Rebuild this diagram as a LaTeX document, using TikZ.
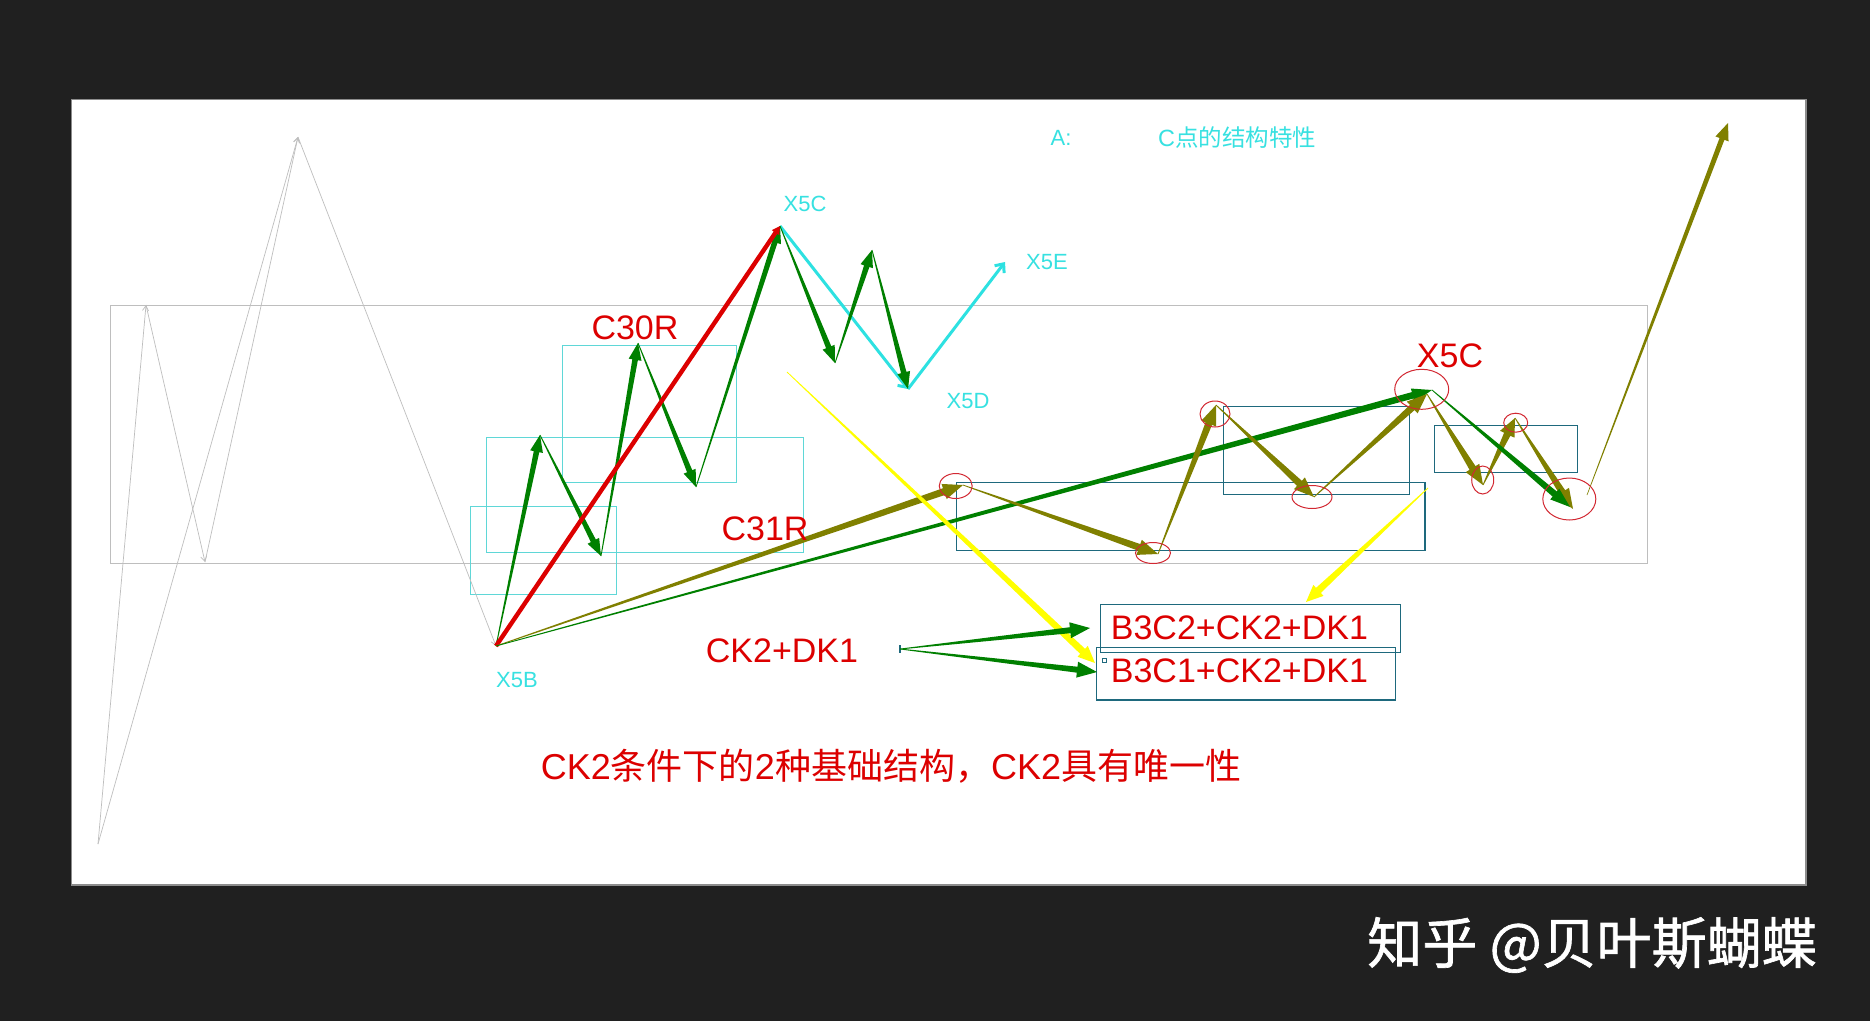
\documentclass[tikz,border=0pt]{standalone}
\usepackage{fontspec}
\setmainfont{Liberation Sans}
\newfontfamily\cjk{Noto Sans CJK SC}
\newfontfamily\cjkwm[FakeBold=1.2]{Noto Sans CJK SC}
\usetikzlibrary{calc,arrows.meta,shapes.geometric}
\definecolor{bgdark}{RGB}{32,32,32}
\definecolor{gline}{RGB}{190,190,190}
\definecolor{cybox}{RGB}{95,215,215}
\definecolor{cytext}{RGB}{55,225,225}
\definecolor{cyline}{RGB}{45,225,225}
\definecolor{grn}{RGB}{0,128,0}
\definecolor{olv}{RGB}{128,128,0}
\definecolor{ylw}{RGB}{255,255,0}
\definecolor{tealbox}{RGB}{30,105,125}
\definecolor{rd}{RGB}{220,0,0}
\definecolor{circ}{RGB}{210,40,50}
% tapered arrow: #1 colour, #2 from, #3 to, #4 tail half width, #5 shaft half width at head, #6 head half width, #7 head length
\newcommand\tarrow[7]{%
  \coordinate (tH) at ($(#3)!#7!(#2)$);
  \fill[#1] ($(#2)!#4!90:(#3)$) -- ($(tH)!#5!90:(#3)$) -- ($(tH)!#6!90:(#3)$) -- (#3)
    -- ($(tH)!#6!-90:(#3)$) -- ($(tH)!#5!-90:(#3)$) -- ($(#2)!#4!-90:(#3)$) -- cycle;}
\tikzset{
  glinestyle/.style={draw=gline, line width=0.7pt, -{Straight Barb[length=5pt,width=6pt]}},
  cyboxstyle/.style={draw=cybox, line width=1pt},
  tealstyle/.style={draw=tealbox, line width=1.3pt},
  ring/.style={draw=circ, line width=1pt, ellipse, inner sep=0pt},
  cylab/.style={text=cytext, inner sep=0pt, font=\fontsize{22}{26}\selectfont},
  redlab/.style={text=rd, inner sep=0pt, font=\fontsize{34}{40}\selectfont},
  cyarrow/.style={draw=cyline, line width=3pt, -{Straight Barb[length=7pt,width=12pt]}},
}
\begin{document}
\begin{tikzpicture}[x=1pt,y=-1pt]
\useasboundingbox (0,0) rectangle (1870,1021);
\fill[bgdark] (0,0) rectangle (1870,1021);
\draw[black!45, line width=3pt] (72,100) rectangle (1805,884);
\fill[white] (72,100) rectangle (1805,884);

% points
\coordinate (P0) at (98,844);
\coordinate (P1) at (146,305);
\coordinate (P2) at (205,562);
\coordinate (P3) at (298,137);
\coordinate (X5B) at (496,646);
\coordinate (G1) at (540,435);
\coordinate (G2) at (601,556);
\coordinate (G3) at (638,343);
\coordinate (G4) at (696,487);
\coordinate (X5C) at (780,226);
\coordinate (G5) at (835,363);
\coordinate (G6) at (872,250);
\coordinate (X5D) at (908,389);
\coordinate (X5E) at (1005,262);
\coordinate (Q1) at (963,485);
\coordinate (Q2) at (1158,554);
\coordinate (Q3) at (1216,405);
\coordinate (Q4) at (1314,497);
\coordinate (Q5) at (1427,394);
\coordinate (Q5g) at (1432,390);
\coordinate (Q6) at (1483,485);
\coordinate (Q7) at (1515,418);
\coordinate (Q8) at (1573,509);
\coordinate (Q8g) at (1570,507);
\coordinate (Q9) at (1587,495);
\coordinate (Top) at (1728,123);
\coordinate (Ys1) at (787,372);
\coordinate (Ye1) at (1095,663);
\coordinate (Ys2) at (1428,488);
\coordinate (Ye2) at (1306,602);
\coordinate (Tick) at (900,649);
\coordinate (Te1) at (1090,628);
\coordinate (Te2) at (1097,672);

% boxes
\draw[gline, line width=1pt] (110,305) rectangle (1647,563);
\draw[cyboxstyle] (470.7,506.7) rectangle (616,594.3);
\draw[cyboxstyle] (486.7,437.3) rectangle (803.3,552.3);
\draw[cyboxstyle] (562.3,345) rectangle (736.3,482.3);
\draw[tealstyle] (956.7,482.3) rectangle (1425,550.3);
\draw[tealstyle] (1223.3,406.7) rectangle (1409.3,494.3);
\draw[tealstyle] (1434.3,425.7) rectangle (1577.3,472.3);
\draw[tealstyle] (1100.7,604.3) rectangle (1400.7,652.3);
\draw[tealstyle] (1096.7,647.7) rectangle (1395.3,700);
\draw[tealbox, line width=0.8pt] (1102,658) rectangle (1106,662);

% grey zigzag
\draw[glinestyle] (P0) -- (P1);
\draw[glinestyle] (P1) -- (P2);
\draw[glinestyle] (P2) -- (P3);
\draw[glinestyle] (P0) -- (P3);
\draw[glinestyle] (P3) -- (X5B);

% cyan path
\draw[cyarrow] (X5C) -- (X5D);
\draw[cyarrow] (X5D) -- (X5E);

% green left zigzag
\tarrow{grn}{X5B}{G1}{0.4pt}{2.8pt}{6.5pt}{17pt}
\tarrow{grn}{G1}{G2}{0.4pt}{2.8pt}{6.5pt}{17pt}
\tarrow{grn}{G2}{G3}{0.4pt}{2.8pt}{6.5pt}{17pt}
\tarrow{grn}{G3}{G4}{0.4pt}{2.8pt}{6.5pt}{17pt}
\tarrow{grn}{G4}{X5C}{0.4pt}{2.8pt}{6.5pt}{17pt}
% red
\tarrow{rd}{X5B}{X5C}{2.2pt}{2.2pt}{4.5pt}{8pt}
% green right zigzag
\tarrow{grn}{X5C}{G5}{0.4pt}{2.8pt}{6.5pt}{17pt}
\tarrow{grn}{G5}{G6}{0.4pt}{2.8pt}{6.5pt}{17pt}
\tarrow{grn}{G6}{X5D}{0.4pt}{2.8pt}{6.5pt}{17pt}

% long arrows from X5B
\tarrow{olv}{X5B}{Q1}{0.4pt}{3.5pt}{8pt}{20pt}
\tarrow{grn}{X5B}{Q5g}{0.4pt}{3.3pt}{7pt}{20pt}

% olive chain
\tarrow{olv}{Q1}{Q2}{0.4pt}{3.5pt}{8pt}{20pt}
\tarrow{olv}{Q2}{Q3}{0.4pt}{3.5pt}{8pt}{20pt}
\tarrow{olv}{Q3}{Q4}{0.4pt}{3.5pt}{8pt}{20pt}
\tarrow{olv}{Q4}{Q5}{0.4pt}{3.5pt}{8pt}{20pt}
\tarrow{olv}{Q5}{Q6}{0.4pt}{3.5pt}{8pt}{20pt}
\tarrow{olv}{Q6}{Q7}{0.4pt}{3.5pt}{8pt}{18pt}
\tarrow{olv}{Q7}{Q8}{0.4pt}{3.5pt}{8pt}{20pt}
\tarrow{grn}{Q5g}{Q8g}{0.4pt}{3.3pt}{7pt}{20pt}
\tarrow{olv}{Q9}{Top}{0.3pt}{2.6pt}{7pt}{17pt}

% yellow
\tarrow{ylw}{Ys1}{Ye1}{0.4pt}{3.5pt}{7.5pt}{17pt}
\tarrow{ylw}{Ys2}{Ye2}{0.4pt}{3.5pt}{7.5pt}{17pt}

% tick and green arrows to boxes
\draw[tealbox, line width=1.5pt] (900,645) -- (900,653);
\tarrow{grn}{Tick}{Te1}{0.4pt}{3pt}{8pt}{20pt}
\tarrow{grn}{Tick}{Te2}{0.4pt}{3pt}{8pt}{20pt}

% rings
\node[ring, minimum width=33pt, minimum height=25pt] (r1) at (955.7,486) {};
\node[ring, minimum width=35pt, minimum height=21pt] (r2) at (1153,553) {};
\node[ring, minimum width=30pt, minimum height=26pt] (r3) at (1215,414) {};
\node[ring, minimum width=40pt, minimum height=23pt] (r4) at (1312,497) {};
\node[ring, minimum width=54pt, minimum height=40pt] (r5) at (1421.7,389.3) {};
\node[ring, minimum width=22pt, minimum height=28pt] (r6) at (1482.7,480) {};
\node[ring, minimum width=24pt, minimum height=19pt] (r7) at (1515.7,422.7) {};
\node[ring, minimum width=53pt, minimum height=42pt] (r8) at (1569.3,499) {};

% labels
\node[cylab] (lX5C) at (805,204) {X5C};
\node[cylab] (lX5D) at (968,401) {X5D};
\node[cylab] (lX5E) at (1047,262) {X5E};
\node[cylab] (lX5B) at (517,680) {X5B};
\node[cylab] (lA) at (1061,138) {A:};
\node[cylab, font=\fontsize{23.5}{28}\selectfont] (lCtitle) at (1237,138) {C{\cjk 点的结构特性}};

\node[redlab] (lC30R) at (635,328) {C30R};
\node[redlab] (lC31R) at (765,529) {C31R};
\node[redlab] (lX5Cr) at (1450,356) {X5C};
\node[redlab] (lCK) at (782,651) {CK2+DK1};
\node[redlab, anchor=base west] (lB2) at (1110.7,639) {B3C2+CK2+DK1};
\node[redlab, anchor=base west] (lB1) at (1110.7,682) {B3C1+CK2+DK1};

\node[text=rd, inner sep=0pt, font=\fontsize{36}{44}\selectfont] (lbottom) at (891,766)
  {CK2{\cjk 条件下的}2{\cjk 种基础结构，}CK2{\cjk 具有唯一性}};

\node[text=white, inner sep=0pt, font=\cjkwm\fontsize{55}{62}\selectfont] (wm) at (1592,945) {知乎 @贝叶斯蝴蝶};
\end{tikzpicture}
\end{document}
